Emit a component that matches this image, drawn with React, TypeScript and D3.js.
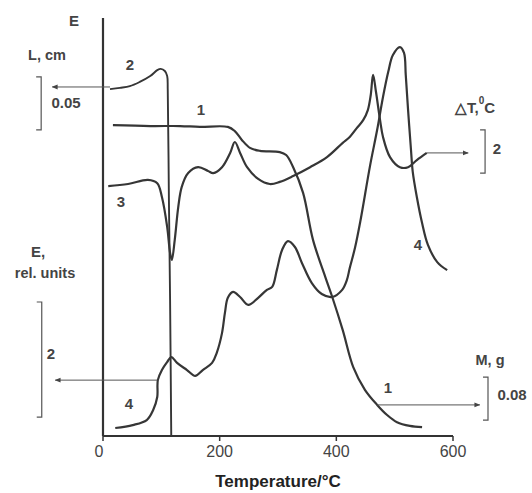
import React from "react";
import * as d3 from "d3";

// Temperature axis ticks
const tickValues = [0, 200, 400, 600];
const tickLabels = ["0", "200", "400", "600"];

// Curve 1: mass M (relative units)
const curve1T = [17, 81, 132, 166, 214, 226, 238, 252, 269, 303, 314, 326, 343, 360, 381, 393, 411, 429, 449, 470, 487, 504, 526, 547];
const curve1V = [74.0, 73.8, 73.8, 73.6, 73.6, 72.6, 70.5, 68.6, 67.9, 67.6, 66.9, 64.0, 57.9, 46.7, 37.9, 33.1, 25.2, 16.4, 11.0, 7.4, 5.0, 3.3, 2.4, 2.1];

// Curve 2: length L
const curve2T = [12, 29, 46, 63, 81, 93, 99, 106, 110, 111, 113, 115, 117];
const curve2V = [82.6, 82.9, 83.3, 84.3, 85.7, 87.1, 87.4, 86.9, 85.7, 82.4, 56.2, 32.4, 0];

// Curve 3: DTA (delta T)
const curve3T = [9, 43, 77, 93, 101, 110, 115, 118, 123, 129, 135, 146, 163, 180, 189, 204, 218, 226, 235, 247, 266, 286, 303, 326, 355, 384, 411, 423, 435, 446, 454, 459, 463, 468, 475, 480, 492, 509, 523, 538, 555];
const curve3V = [59.5, 60.0, 61.0, 60.2, 56.9, 49.8, 43.6, 41.9, 46.7, 54.5, 59.3, 62.6, 64.0, 63.1, 62.6, 64.0, 67.4, 70.0, 67.4, 64.0, 61.2, 60.0, 60.5, 61.9, 64.0, 66.4, 69.8, 71.2, 73.3, 75.2, 77.6, 81.2, 86.0, 81.9, 75.2, 71.2, 66.4, 64.0, 64.0, 65.7, 67.4];

// Curve 4: emission E
const curve4T = [21, 51, 75, 86, 93, 94, 101, 110, 117, 127, 144, 158, 171, 187, 195, 204, 209, 214, 223, 235, 249, 266, 281, 290, 298, 307, 317, 329, 341, 358, 375, 393, 410, 418, 423, 432, 441, 458, 470, 480, 489, 497, 509, 516, 519, 523, 528, 531, 538, 547, 557, 573, 590];
const curve4V = [1.9, 2.6, 3.8, 6.2, 9.3, 13.3, 15.7, 17.6, 18.8, 17.4, 15.7, 14.3, 15.7, 17.4, 19.8, 24.5, 29.3, 32.9, 34.3, 33.1, 31.2, 32.9, 34.8, 35.5, 39.5, 44.3, 46.4, 45.0, 41.2, 36.4, 33.8, 33.1, 34.8, 37.1, 40.0, 44.8, 51.0, 64.5, 72.9, 80.7, 86.7, 90.7, 92.6, 91.2, 86.0, 77.6, 68.1, 62.9, 56.9, 50.7, 45.5, 41.4, 39.5];

// Arrows pointing to each curve's own scale
const arrowFromT = [12, 93, 555, 470];
const arrowToT = [-87, -82, 626, 646];
const arrowV = [83.1, 13.3, 67.4, 7.4];

// Scale brackets
const bracketT = [-106, -105, 655, 660];
const bracketTop = [85.5, 31.9, 72.9, 14.0];
const bracketBottom = [72.9, 4.5, 62.6, 3.8];

const W = 532;
const H = 493;

export default function App() {
  const x = d3.scaleLinear().domain([0, 600]).range([103, 453]);
  const y = d3.scaleLinear().domain([0, 100]).range([436, 16]);

  const line = d3
    .line<[number, number]>()
    .x((d) => x(d[0]))
    .y((d) => y(d[1]))
    .curve(d3.curveCatmullRom.alpha(0.5));

  const zip = (a: number[], b: number[]) => a.map((t, i) => [t, b[i]] as [number, number]);
  const curves = [
    zip(curve1T, curve1V),
    zip(curve2T, curve2V),
    zip(curve3T, curve3V),
    zip(curve4T, curve4V),
  ];

  const ink = "#333";
  const textInk = "#444";
  const font = "'Liberation Sans', Arial, sans-serif";

  return (
    <svg
      width={W}
      height={H}
      style={{ position: "absolute", left: 0, top: 0, background: "#fff" }}
      fontFamily={font}
    >
      <defs>
        <marker id="ah" viewBox="0 0 10 10" refX="9" refY="5" markerWidth="6" markerHeight="6" orient="auto-start-reverse">
          <path d="M0,1 L10,5 L0,9 z" fill="#444" />
        </marker>
      </defs>
      <rect x={0} y={0} width={W} height={H} fill="#fff" />

      {/* axes */}
      <line x1={x(0)} x2={x(0)} y1={18} y2={y(0)} stroke={ink} strokeWidth={2.2} />
      <line x1={x(0)} x2={x(600)} y1={y(0)} y2={y(0)} stroke={ink} strokeWidth={2} />
      {tickValues.map((t, i) => (
        <g key={t}>
          <line x1={x(t)} x2={x(t)} y1={y(0)} y2={y(0) + 5} stroke={ink} strokeWidth={1.5} />
          <text x={x(t) + (i === 0 ? -4 : 0)} y={y(0) + 21} textAnchor="middle" fontSize={16} fill={textInk}>
            {tickLabels[i]}
          </text>
        </g>
      ))}
      <text x={278} y={487} textAnchor="middle" fontSize={17} fontWeight="bold" fill="#222">
        Temperature/°C
      </text>

      {/* curves */}
      {curves.map((c, i) => (
        <path key={i} d={line(c) || ""} fill="none" stroke="#363636" strokeWidth={i === 1 ? 1.9 : 2.2} strokeLinejoin="round" />
      ))}

      {/* arrows */}
      {arrowFromT.map((t, i) => (
        <line
          key={"a" + i}
          x1={x(t)}
          x2={x(arrowToT[i])}
          y1={y(arrowV[i])}
          y2={y(arrowV[i])}
          stroke="#555"
          strokeWidth={1}
          markerEnd="url(#ah)"
        />
      ))}

      {/* brackets */}
      {bracketT.map((t, i) => (
        <path
          key={"b" + i}
          d={`M${x(t) - 5},${y(bracketTop[i])} H${x(t)} V${y(bracketBottom[i])} H${x(t) - 5}`}
          fill="none"
          stroke="#555"
          strokeWidth={1.2}
        />
      ))}

      {/* curve numbers */}
      <g fontSize={15} fill={textInk} textAnchor="middle" fontWeight="bold">
        <text x={130} y={70}>2</text>
        <text x={201} y={115}>1</text>
        <text x={121} y={207}>3</text>
        <text x={129} y={409}>4</text>
        <text x={418} y={250}>4</text>
        <text x={388} y={393}>1</text>
      </g>

      {/* axis annotations */}
      <g fill={textInk} fontWeight="bold">
        <text x={74} y={26} fontSize={15} textAnchor="middle">E</text>
        <text x={47} y={60} fontSize={14.5} textAnchor="middle">L, cm</text>
        <text x={66} y={108} fontSize={15} textAnchor="middle">0.05</text>
        <text x={455} y={113} fontSize={15}>
          △T,
          <tspan fontSize={10} dy={-9}>0</tspan>
          <tspan dy={9}>C</tspan>
        </text>
        <text x={497} y={154} fontSize={15} textAnchor="middle">2</text>
        <text x={38} y={257} fontSize={15} textAnchor="middle">E,</text>
        <text x={45} y={278} fontSize={14.5} textAnchor="middle">rel. units</text>
        <text x={51} y={359} fontSize={15} textAnchor="middle">2</text>
        <text x={490} y={365} fontSize={14.5} textAnchor="middle">M, g</text>
        <text x={512} y={400} fontSize={15} textAnchor="middle">0.08</text>
      </g>
    </svg>
  );
}
